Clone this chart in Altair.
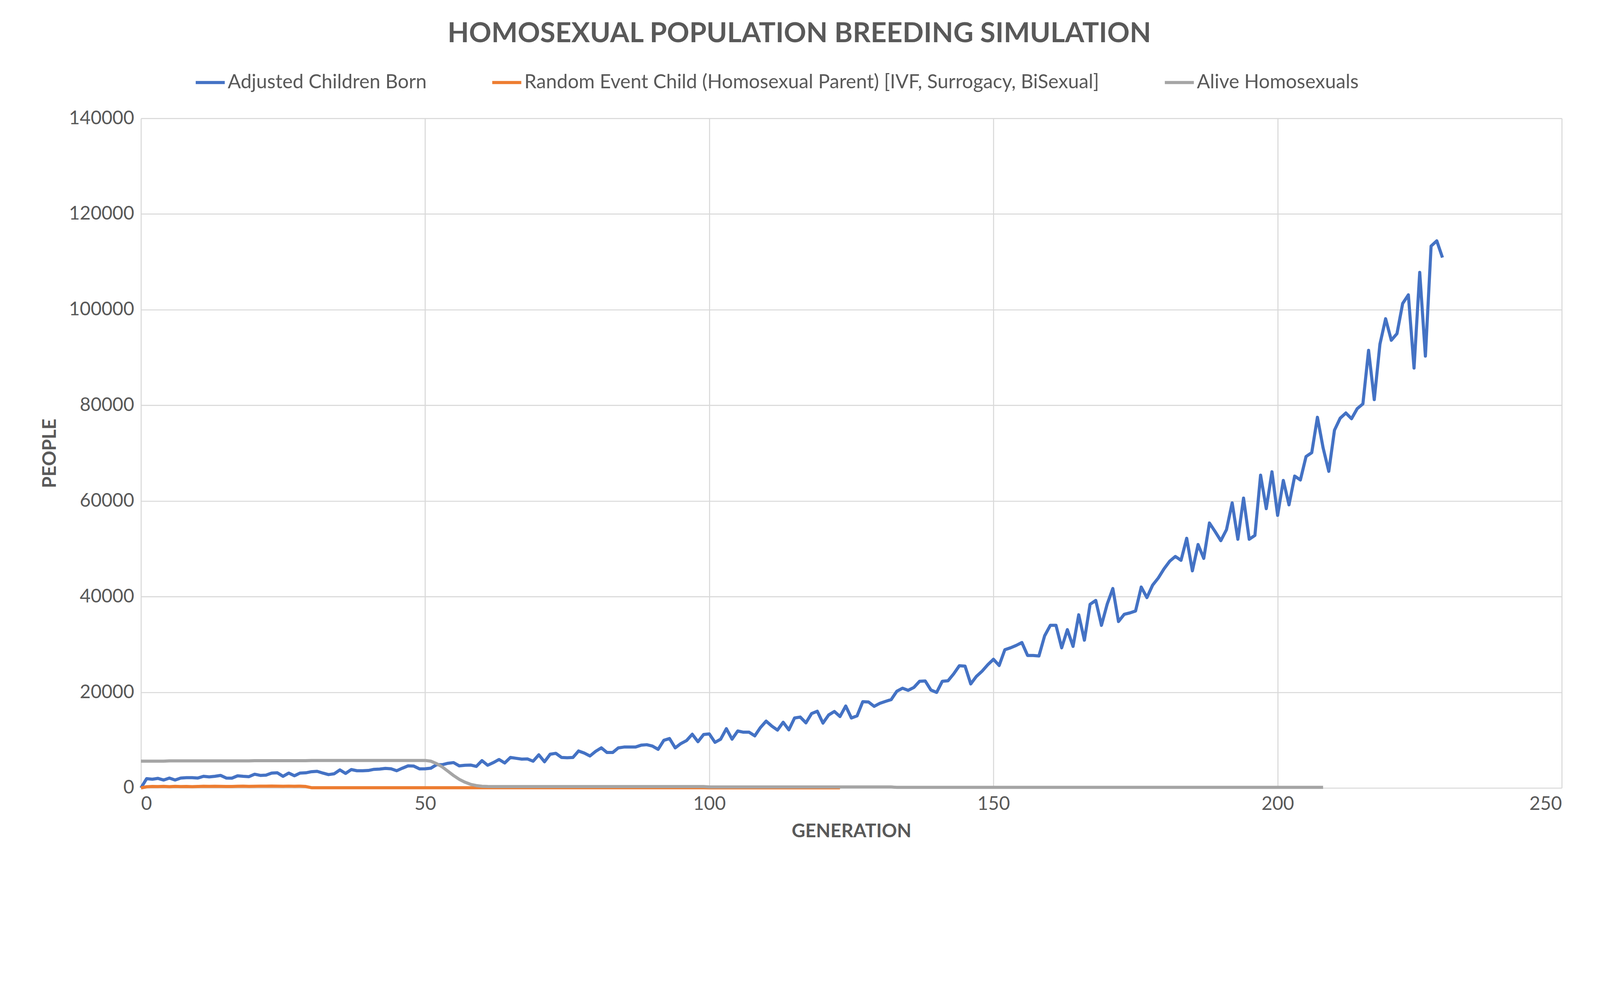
import altair as alt
import pandas as pd

# Adjusted Children Born, generations 0..229
blue = [
    0, 1950, 1820, 2000, 1650, 2070, 1650, 2070, 2140, 2140,
    2070, 2430, 2310, 2430, 2620, 2070, 2040, 2530, 2430, 2360,
    2870, 2620, 2670, 3110, 3160, 2430, 3110, 2550, 3110, 3160,
    3400, 3475, 3110, 2790, 2960, 3770, 3040, 3840, 3600, 3600,
    3650, 3890, 3940, 4080, 4010, 3600, 4130, 4620, 4570, 3990,
    4010, 4130, 4860, 4860, 5150, 5300, 4620, 4740, 4790, 4500,
    5710, 4740, 5300, 5950, 5220, 6370, 6200, 6030, 6070, 5590,
    6930, 5470, 7050, 7240, 6370, 6320, 6370, 7730, 7290, 6680,
    7650, 8380, 7410, 7410, 8380, 8550, 8550, 8550, 8940, 9040,
    8750, 8070, 9960, 10330, 8380, 9280, 9910, 11230, 9670, 11180,
    11300, 9530, 10200, 12390, 10200, 11910, 11660, 11660, 10890, 12640,
    13970, 12930, 12100, 13730, 12150, 14630, 14820, 13610, 15550, 16040,
    13560, 15260, 15990, 14940, 17130, 14630, 15070, 18030, 17980, 17060,
    17690, 18100, 18470, 20220, 20850, 20410, 21020, 22310, 22360, 20460,
    19980, 22310, 22400, 23860, 25560, 25470, 21750, 23330, 24420, 25760,
    26900, 25600, 28900, 29300, 29800, 30400, 27700, 27700, 27600, 31800,
    34000, 34000, 29300, 33100, 29600, 36200, 30900, 38400, 39200, 34000,
    38400, 41700, 34800, 36300, 36600, 37000, 42000, 39800, 42400, 43900,
    45800, 47400, 48400, 47600, 52200, 45400, 50900, 48000, 55400, 53600,
    51700, 54000, 59600, 52000, 60600, 52000, 52800, 65400, 58400, 66100,
    57000, 64300, 59200, 65200, 64400, 69300, 70100, 77500, 71100, 66200,
    74800, 77300, 78400, 77200, 79300, 80300, 91500, 81200, 92800, 98100,
    93600, 95000, 101300, 103100, 87800, 107800, 90300, 113300, 114400, 110900,
]

# Random Event Child (Homosexual Parent), generations 0..123
orange = (
    [0, 250, 300, 280, 320, 260, 330, 280, 300, 270,
     310, 340, 320, 350, 330, 300, 310, 340, 360, 330,
     350, 380, 360, 390, 370, 340, 380, 350, 370, 300]
    + [50] * 31 + [40] * 39 + [20] * 24
)

# Alive Homosexuals, generations 0..208
grey = (
    [5600] * 5 + [5650] * 15 + [5700] * 10 + [5750] * 21
    + [5600, 5100, 4400, 3500, 2600, 1800, 1200, 750, 500, 350, 300]
    + [280] * 38 + [200] * 33 + [120] * 76
)

names = [
    "Adjusted Children Born",
    "Random Event Child (Homosexual Parent) [IVF, Surrogacy, BiSexual]",
    "Alive Homosexuals",
]
colors = ["#4472C4", "#ED7D31", "#A5A5A5"]

rows = []
for name, vals in zip(names, [blue, orange, grey]):
    for g, v in enumerate(vals):
        rows.append({"generation": g, "people": v, "series": name})
df = pd.DataFrame(rows)

chart = alt.Chart(df).mark_line(strokeWidth=9, strokeJoin="round").encode(
    x=alt.X("generation:Q", title="GENERATION",
            scale=alt.Scale(domain=[0, 250], nice=False),
            axis=alt.Axis(values=[0, 50, 100, 150, 200, 250], titlePadding=25)),
    y=alt.Y("people:Q", title="PEOPLE",
            scale=alt.Scale(domain=[0, 140000], nice=False),
            axis=alt.Axis(values=list(range(0, 140001, 20000)), format="d",
                          titlePadding=35)),
    color=alt.Color("series:N", title=None,
                    scale=alt.Scale(domain=names, range=colors),
                    legend=alt.Legend(orient="none", legendX=153, legendY=-150,
                                      direction="horizontal", columnPadding=170,
                                      symbolType="stroke", symbolSize=7000,
                                      symbolStrokeWidth=9, labelFontSize=56,
                                      labelLimit=0,
                                      labelColor="#595959", labelOffset=4)),
    order="generation:Q",
).properties(
    width=4092,
    height=1928,
    autosize=alt.AutoSizeParams(type="none"),
    padding={"left": 397, "top": 183, "right": 101, "bottom": 271},
    title=alt.Title("HOMOSEXUAL POPULATION BREEDING SIMULATION", fontSize=80,
                    fontWeight="bold", color="#595959", anchor="middle",
                    dx=-150, offset=52),
).configure(
    font="Lato",
).configure_view(
    stroke=None,
).configure_axis(
    gridColor="#D9D9D9", gridWidth=3, domain=False, ticks=False,
    labelFontSize=54, labelColor="#595959", labelPadding=20, labelLimit=0,
    titleFontSize=54, titleColor="#595959", titleFontWeight="bold",
)

chart.save("out.html", embed_options={"renderer": "svg", "actions": False})
